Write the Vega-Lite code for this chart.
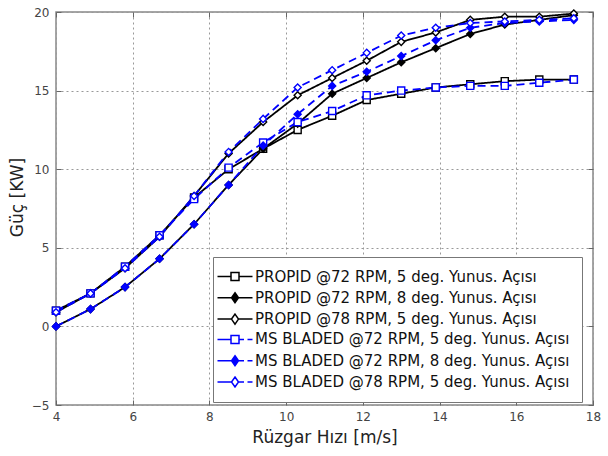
{
  "$schema": "https://vega.github.io/schema/vega-lite/v6.json",
  "width": 537,
  "height": 393,
  "autosize": {"type": "none"},
  "padding": {"left": 56, "top": 12, "right": 15, "bottom": 51},
  "config": {
    "view": {"stroke": "#888888", "strokeWidth": 1.5},
    "font": "DejaVu Sans",
    "axis": {"labelFont": "DejaVu Sans", "titleFont": "DejaVu Sans"}
  },
  "data": {"values": [
    {"x": 4, "s": "PROPID @72 RPM, 5 deg. Yunus. Açısı", "y": 1.0},
    {"x": 4.9, "s": "PROPID @72 RPM, 5 deg. Yunus. Açısı", "y": 2.1},
    {"x": 5.8, "s": "PROPID @72 RPM, 5 deg. Yunus. Açısı", "y": 3.8},
    {"x": 6.7, "s": "PROPID @72 RPM, 5 deg. Yunus. Açısı", "y": 5.8},
    {"x": 7.6, "s": "PROPID @72 RPM, 5 deg. Yunus. Açısı", "y": 8.2},
    {"x": 8.5, "s": "PROPID @72 RPM, 5 deg. Yunus. Açısı", "y": 10.0},
    {"x": 9.4, "s": "PROPID @72 RPM, 5 deg. Yunus. Açısı", "y": 11.3},
    {"x": 10.3, "s": "PROPID @72 RPM, 5 deg. Yunus. Açısı", "y": 12.5},
    {"x": 11.2, "s": "PROPID @72 RPM, 5 deg. Yunus. Açısı", "y": 13.4},
    {"x": 12.1, "s": "PROPID @72 RPM, 5 deg. Yunus. Açısı", "y": 14.4},
    {"x": 13.0, "s": "PROPID @72 RPM, 5 deg. Yunus. Açısı", "y": 14.8},
    {"x": 13.9, "s": "PROPID @72 RPM, 5 deg. Yunus. Açısı", "y": 15.2},
    {"x": 14.8, "s": "PROPID @72 RPM, 5 deg. Yunus. Açısı", "y": 15.4},
    {"x": 15.7, "s": "PROPID @72 RPM, 5 deg. Yunus. Açısı", "y": 15.6},
    {"x": 16.6, "s": "PROPID @72 RPM, 5 deg. Yunus. Açısı", "y": 15.7},
    {"x": 17.5, "s": "PROPID @72 RPM, 5 deg. Yunus. Açısı", "y": 15.7},
    {"x": 4, "s": "PROPID @72 RPM, 8 deg. Yunus. Açısı", "y": 0.0},
    {"x": 4.9, "s": "PROPID @72 RPM, 8 deg. Yunus. Açısı", "y": 1.1},
    {"x": 5.8, "s": "PROPID @72 RPM, 8 deg. Yunus. Açısı", "y": 2.5},
    {"x": 6.7, "s": "PROPID @72 RPM, 8 deg. Yunus. Açısı", "y": 4.3},
    {"x": 7.6, "s": "PROPID @72 RPM, 8 deg. Yunus. Açısı", "y": 6.5},
    {"x": 8.5, "s": "PROPID @72 RPM, 8 deg. Yunus. Açısı", "y": 9.0},
    {"x": 9.4, "s": "PROPID @72 RPM, 8 deg. Yunus. Açısı", "y": 11.3},
    {"x": 10.3, "s": "PROPID @72 RPM, 8 deg. Yunus. Açısı", "y": 12.9},
    {"x": 11.2, "s": "PROPID @72 RPM, 8 deg. Yunus. Açısı", "y": 14.8},
    {"x": 12.1, "s": "PROPID @72 RPM, 8 deg. Yunus. Açısı", "y": 15.8},
    {"x": 13.0, "s": "PROPID @72 RPM, 8 deg. Yunus. Açısı", "y": 16.8},
    {"x": 13.9, "s": "PROPID @72 RPM, 8 deg. Yunus. Açısı", "y": 17.7},
    {"x": 14.8, "s": "PROPID @72 RPM, 8 deg. Yunus. Açısı", "y": 18.6},
    {"x": 15.7, "s": "PROPID @72 RPM, 8 deg. Yunus. Açısı", "y": 19.2},
    {"x": 16.6, "s": "PROPID @72 RPM, 8 deg. Yunus. Açısı", "y": 19.5},
    {"x": 17.5, "s": "PROPID @72 RPM, 8 deg. Yunus. Açısı", "y": 19.8},
    {"x": 4, "s": "PROPID @78 RPM, 5 deg. Yunus. Açısı", "y": 0.9},
    {"x": 4.9, "s": "PROPID @78 RPM, 5 deg. Yunus. Açısı", "y": 2.1},
    {"x": 5.8, "s": "PROPID @78 RPM, 5 deg. Yunus. Açısı", "y": 3.7},
    {"x": 6.7, "s": "PROPID @78 RPM, 5 deg. Yunus. Açısı", "y": 5.7},
    {"x": 7.6, "s": "PROPID @78 RPM, 5 deg. Yunus. Açısı", "y": 8.3},
    {"x": 8.5, "s": "PROPID @78 RPM, 5 deg. Yunus. Açısı", "y": 11.0},
    {"x": 9.4, "s": "PROPID @78 RPM, 5 deg. Yunus. Açısı", "y": 13.0},
    {"x": 10.3, "s": "PROPID @78 RPM, 5 deg. Yunus. Açısı", "y": 14.7},
    {"x": 11.2, "s": "PROPID @78 RPM, 5 deg. Yunus. Açısı", "y": 15.8},
    {"x": 12.1, "s": "PROPID @78 RPM, 5 deg. Yunus. Açısı", "y": 16.9},
    {"x": 13.0, "s": "PROPID @78 RPM, 5 deg. Yunus. Açısı", "y": 18.1},
    {"x": 13.9, "s": "PROPID @78 RPM, 5 deg. Yunus. Açısı", "y": 18.7},
    {"x": 14.8, "s": "PROPID @78 RPM, 5 deg. Yunus. Açısı", "y": 19.5},
    {"x": 15.7, "s": "PROPID @78 RPM, 5 deg. Yunus. Açısı", "y": 19.7},
    {"x": 16.6, "s": "PROPID @78 RPM, 5 deg. Yunus. Açısı", "y": 19.7},
    {"x": 17.5, "s": "PROPID @78 RPM, 5 deg. Yunus. Açısı", "y": 19.9},
    {"x": 4, "s": "MS BLADED @72 RPM, 5 deg. Yunus. Açısı", "y": 1.0},
    {"x": 4.9, "s": "MS BLADED @72 RPM, 5 deg. Yunus. Açısı", "y": 2.1},
    {"x": 5.8, "s": "MS BLADED @72 RPM, 5 deg. Yunus. Açısı", "y": 3.8},
    {"x": 6.7, "s": "MS BLADED @72 RPM, 5 deg. Yunus. Açısı", "y": 5.8},
    {"x": 7.6, "s": "MS BLADED @72 RPM, 5 deg. Yunus. Açısı", "y": 8.1},
    {"x": 8.5, "s": "MS BLADED @72 RPM, 5 deg. Yunus. Açısı", "y": 10.1},
    {"x": 9.4, "s": "MS BLADED @72 RPM, 5 deg. Yunus. Açısı", "y": 11.7},
    {"x": 10.3, "s": "MS BLADED @72 RPM, 5 deg. Yunus. Açısı", "y": 13.0},
    {"x": 11.2, "s": "MS BLADED @72 RPM, 5 deg. Yunus. Açısı", "y": 13.7},
    {"x": 12.1, "s": "MS BLADED @72 RPM, 5 deg. Yunus. Açısı", "y": 14.7},
    {"x": 13.0, "s": "MS BLADED @72 RPM, 5 deg. Yunus. Açısı", "y": 15.0},
    {"x": 13.9, "s": "MS BLADED @72 RPM, 5 deg. Yunus. Açısı", "y": 15.2},
    {"x": 14.8, "s": "MS BLADED @72 RPM, 5 deg. Yunus. Açısı", "y": 15.3},
    {"x": 15.7, "s": "MS BLADED @72 RPM, 5 deg. Yunus. Açısı", "y": 15.3},
    {"x": 16.6, "s": "MS BLADED @72 RPM, 5 deg. Yunus. Açısı", "y": 15.5},
    {"x": 17.5, "s": "MS BLADED @72 RPM, 5 deg. Yunus. Açısı", "y": 15.7},
    {"x": 4, "s": "MS BLADED @72 RPM, 8 deg. Yunus. Açısı", "y": 0.0},
    {"x": 4.9, "s": "MS BLADED @72 RPM, 8 deg. Yunus. Açısı", "y": 1.1},
    {"x": 5.8, "s": "MS BLADED @72 RPM, 8 deg. Yunus. Açısı", "y": 2.5},
    {"x": 6.7, "s": "MS BLADED @72 RPM, 8 deg. Yunus. Açısı", "y": 4.3},
    {"x": 7.6, "s": "MS BLADED @72 RPM, 8 deg. Yunus. Açısı", "y": 6.5},
    {"x": 8.5, "s": "MS BLADED @72 RPM, 8 deg. Yunus. Açısı", "y": 9.0},
    {"x": 9.4, "s": "MS BLADED @72 RPM, 8 deg. Yunus. Açısı", "y": 11.5},
    {"x": 10.3, "s": "MS BLADED @72 RPM, 8 deg. Yunus. Açısı", "y": 13.5},
    {"x": 11.2, "s": "MS BLADED @72 RPM, 8 deg. Yunus. Açısı", "y": 15.3},
    {"x": 12.1, "s": "MS BLADED @72 RPM, 8 deg. Yunus. Açısı", "y": 16.2},
    {"x": 13.0, "s": "MS BLADED @72 RPM, 8 deg. Yunus. Açısı", "y": 17.2},
    {"x": 13.9, "s": "MS BLADED @72 RPM, 8 deg. Yunus. Açısı", "y": 18.2},
    {"x": 14.8, "s": "MS BLADED @72 RPM, 8 deg. Yunus. Açısı", "y": 19.0},
    {"x": 15.7, "s": "MS BLADED @72 RPM, 8 deg. Yunus. Açısı", "y": 19.3},
    {"x": 16.6, "s": "MS BLADED @72 RPM, 8 deg. Yunus. Açısı", "y": 19.4},
    {"x": 17.5, "s": "MS BLADED @72 RPM, 8 deg. Yunus. Açısı", "y": 19.5},
    {"x": 4, "s": "MS BLADED @78 RPM, 5 deg. Yunus. Açısı", "y": 0.9},
    {"x": 4.9, "s": "MS BLADED @78 RPM, 5 deg. Yunus. Açısı", "y": 2.1},
    {"x": 5.8, "s": "MS BLADED @78 RPM, 5 deg. Yunus. Açısı", "y": 3.7},
    {"x": 6.7, "s": "MS BLADED @78 RPM, 5 deg. Yunus. Açısı", "y": 5.7},
    {"x": 7.6, "s": "MS BLADED @78 RPM, 5 deg. Yunus. Açısı", "y": 8.3},
    {"x": 8.5, "s": "MS BLADED @78 RPM, 5 deg. Yunus. Açısı", "y": 11.1},
    {"x": 9.4, "s": "MS BLADED @78 RPM, 5 deg. Yunus. Açısı", "y": 13.2},
    {"x": 10.3, "s": "MS BLADED @78 RPM, 5 deg. Yunus. Açısı", "y": 15.2},
    {"x": 11.2, "s": "MS BLADED @78 RPM, 5 deg. Yunus. Açısı", "y": 16.3},
    {"x": 12.1, "s": "MS BLADED @78 RPM, 5 deg. Yunus. Açısı", "y": 17.4},
    {"x": 13.0, "s": "MS BLADED @78 RPM, 5 deg. Yunus. Açısı", "y": 18.5},
    {"x": 13.9, "s": "MS BLADED @78 RPM, 5 deg. Yunus. Açısı", "y": 19.0},
    {"x": 14.8, "s": "MS BLADED @78 RPM, 5 deg. Yunus. Açısı", "y": 19.3},
    {"x": 15.7, "s": "MS BLADED @78 RPM, 5 deg. Yunus. Açısı", "y": 19.4},
    {"x": 16.6, "s": "MS BLADED @78 RPM, 5 deg. Yunus. Açısı", "y": 19.5},
    {"x": 17.5, "s": "MS BLADED @78 RPM, 5 deg. Yunus. Açısı", "y": 19.6}
  ]},
  "resolve": {"axis": {"x": "independent", "y": "independent"}},
  "layer": [
    {
      "mark": {"type": "line", "strokeWidth": 1.8},
      "encoding": {
        "x": {"field": "x", "type": "quantitative",
          "scale": {"domain": [4, 18], "nice": false, "zero": false},
          "axis": {"orient": "bottom", "values": [4, 6, 8, 10, 12, 14, 16, 18], "title": "Rüzgar Hızı [m/s]",
            "titleFontSize": 17, "titleFontWeight": "normal", "titleColor": "#222222", "titlePadding": 7,
            "labelFontSize": 12, "labelColor": "#444444", "labelPadding": 11, "labelFlush": false, "labelOverlap": false,
            "domain": false, "tickSize": -5, "tickColor": "#666666",
            "grid": true, "gridDash": [2, 3], "gridColor": "#999999", "gridWidth": 1}},
        "y": {"field": "y", "type": "quantitative",
          "scale": {"domain": [-5, 20], "nice": false, "zero": false},
          "axis": {"orient": "left", "values": [-5, 0, 5, 10, 15, 20], "title": "Güç [KW]",
            "titleFontSize": 17, "titleFontWeight": "normal", "titleColor": "#222222", "titlePadding": 5, "titleY": 185,
            "labelFontSize": 12, "labelColor": "#444444", "labelPadding": 12, "labelFlush": false, "labelOverlap": false,
            "domain": false, "tickSize": -5, "tickColor": "#666666",
            "grid": true, "gridDash": [2, 3], "gridColor": "#999999", "gridWidth": 1}},
        "color": {"field": "s", "type": "nominal",
          "scale": {"domain": ["PROPID @72 RPM, 5 deg. Yunus. Açısı", "PROPID @72 RPM, 8 deg. Yunus. Açısı", "PROPID @78 RPM, 5 deg. Yunus. Açısı", "MS BLADED @72 RPM, 5 deg. Yunus. Açısı", "MS BLADED @72 RPM, 8 deg. Yunus. Açısı", "MS BLADED @78 RPM, 5 deg. Yunus. Açısı"],
            "range": ["#000000", "#000000", "#000000", "#0000ff", "#0000ff", "#0000ff"]},
          "legend": {"title": null, "orient": "none", "legendX": 157, "legendY": 245,
            "fillColor": "white", "strokeColor": "#777777", "padding": 12,
            "labelFont": "DejaVu Sans", "labelFontSize": 15, "labelColor": "#111111", "labelLimit": 500,
            "symbolSize": 100, "symbolOffset": 2.5, "labelOffset": 12.5, "rowPadding": 4.3, "symbolOpacity": 1,
            "encoding": {"symbols": {
              "shape": {"value": {"expr": "['M-3.5,0H-0.8M0.8,0H3.5M-0.8,-0.8H0.8V0.8H-0.8Z','M-3.5,0H-0.7M0.7,0H3.5M0,-1L0.7,0L0,1L-0.7,0Z','M-3.5,0H-0.7M0.7,0H3.5M0,-1L0.7,0L0,1L-0.7,0Z','M-3.5,0H-0.8M0.8,0H1.8M2.5,0H3.5M-0.8,-0.8H0.8V0.8H-0.8Z','M-3.5,0H-0.7M0.7,0H1.8M2.5,0H3.5M0,-1L0.7,0L0,1L-0.7,0Z','M-3.5,0H-0.7M0.7,0H1.8M2.5,0H3.5M0,-1L0.7,0L0,1L-0.7,0Z'][datum.index]"}},
              "fill": {"value": {"expr": "['white','black','white','white','blue','white'][datum.index]"}},
              "fillOpacity": {"value": 1},
              "strokeWidth": {"value": 1.5},
              "opacity": {"value": 1}
            }}}},
        "strokeDash": {"field": "s", "type": "nominal",
          "scale": {"domain": ["MS BLADED @78 RPM, 5 deg. Yunus. Açısı", "MS BLADED @72 RPM, 8 deg. Yunus. Açısı", "MS BLADED @72 RPM, 5 deg. Yunus. Açısı", "PROPID @78 RPM, 5 deg. Yunus. Açısı", "PROPID @72 RPM, 8 deg. Yunus. Açısı", "PROPID @72 RPM, 5 deg. Yunus. Açısı"],
            "range": [[8, 5], [8, 5], [8, 5], [1, 0], [1, 0], [1, 0]]},
          "legend": null}
      }
    },
    {
      "mark": {"type": "point", "size": 50, "strokeWidth": 1.4, "filled": false, "opacity": 1},
      "encoding": {
        "x": {"field": "x", "type": "quantitative",
          "axis": {"orient": "top", "values": [4, 6, 8, 10, 12, 14, 16, 18], "title": null, "labels": false,
            "domain": false, "tickSize": -5, "tickColor": "#666666", "grid": false}},
        "y": {"field": "y", "type": "quantitative",
          "axis": {"orient": "right", "values": [-5, 0, 5, 10, 15, 20], "title": null, "labels": false,
            "domain": false, "tickSize": -5, "tickColor": "#666666", "grid": false}},
        "color": {"field": "s", "type": "nominal"},
        "shape": {"field": "s", "type": "nominal",
          "scale": {"domain": ["MS BLADED @78 RPM, 5 deg. Yunus. Açısı", "MS BLADED @72 RPM, 8 deg. Yunus. Açısı", "MS BLADED @72 RPM, 5 deg. Yunus. Açısı", "PROPID @78 RPM, 5 deg. Yunus. Açısı", "PROPID @72 RPM, 8 deg. Yunus. Açısı", "PROPID @72 RPM, 5 deg. Yunus. Açısı"],
            "range": ["diamond", "diamond", "square", "diamond", "diamond", "square"]},
          "legend": null},
        "fill": {"field": "s", "type": "nominal",
          "scale": {"domain": ["MS BLADED @78 RPM, 5 deg. Yunus. Açısı", "MS BLADED @72 RPM, 8 deg. Yunus. Açısı", "MS BLADED @72 RPM, 5 deg. Yunus. Açısı", "PROPID @78 RPM, 5 deg. Yunus. Açısı", "PROPID @72 RPM, 8 deg. Yunus. Açısı", "PROPID @72 RPM, 5 deg. Yunus. Açısı"],
            "range": ["#ffffff", "#0000ff", "#ffffff", "#ffffff", "#000000", "#ffffff"]},
          "legend": null}
      }
    }
  ]
}
